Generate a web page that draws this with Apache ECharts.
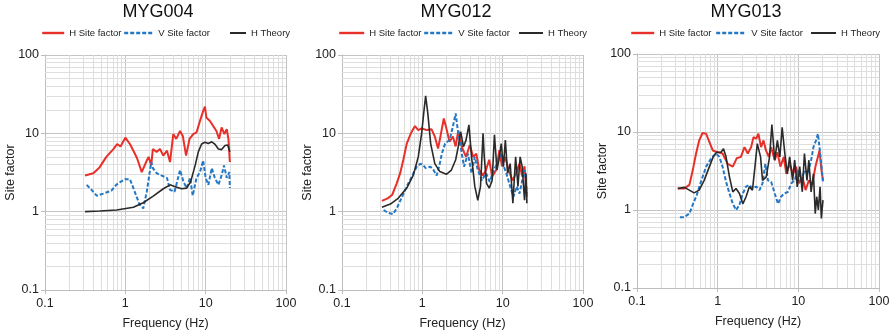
<!DOCTYPE html>
<html>
<head>
<meta charset="utf-8">
<script src="https://cdn.jsdelivr.net/npm/echarts@6/dist/echarts.min.js"></script>
<style>
html,body{margin:0;padding:0;background:#fff;}
#c{width:893px;height:336px;}
</style>
</head>
<body>
<div id="c"></div>
<script>
// ---- Data (frequency Hz, site factor) ----
const panelTitles = ['MYG004', 'MYG012', 'MYG013'];
const seriesNames = ['H Site factor', 'V Site factor', 'H Theory'];
const tickLabels = ['0.1', '1', '10', '100'];

const myg004_H = [[0.315,2.9],[0.4,3.1],[0.48,3.7],[0.58,5.0],[0.71,6.3],[0.79,7.3],[0.87,6.8],[1.0,8.8],[1.14,7.3],[1.26,6.0],[1.4,4.8],[1.6,3.2],[1.85,4.5],[1.95,5.0],[2.1,3.9],[2.2,6.3],[2.45,5.8],[2.7,6.3],[2.97,5.2],[3.3,6.0],[3.6,4.3],[3.95,9.8],[4.3,8.5],[4.8,10.7],[5.2,9.2],[5.7,5.2],[6.3,8.5],[7.0,9.8],[7.7,10.3],[8.5,14.4],[9.3,19.2],[9.8,22],[10.2,15.9],[11.3,14.4],[12.4,12.4],[13.6,10.7],[14.7,8.5],[15.8,11.9],[17.1,9.8],[18.3,11.3],[19.2,8.5],[20,4.3]];
const myg004_V = [[0.33,2.2],[0.38,1.9],[0.44,1.6],[0.53,1.7],[0.67,1.85],[0.77,2.2],[0.87,2.4],[0.99,2.6],[1.14,2.6],[1.26,2.0],[1.4,1.5],[1.5,1.24],[1.67,1.1],[1.85,1.8],[2.1,4.3],[2.2,3.6],[2.45,3.1],[2.8,2.9],[3.3,2.7],[3.6,1.9],[4.1,1.8],[4.8,3.4],[5.3,2.4],[5.8,2.0],[6.4,2.7],[6.9,1.6],[7.7,2.7],[8.5,3.2],[9.3,4.5],[10,2.7],[10.8,2.2],[11.9,3.6],[13,2.7],[14.4,2.2],[15.8,2.9],[16.9,3.9],[18.3,2.7],[19.7,3.2],[20,2.0]];
const myg004_T = [[0.315,1.0],[0.48,1.02],[0.78,1.05],[1.26,1.14],[1.67,1.3],[2.2,1.57],[2.97,1.96],[3.6,2.2],[4.1,2.1],[5.0,1.96],[5.8,2.0],[6.5,2.4],[7.4,3.9],[8.1,5.8],[8.9,7.3],[9.8,7.7],[10.8,7.4],[11.9,7.8],[13,7.3],[14.4,6.3],[15.8,6.2],[17.4,7.0],[18.8,7.1],[20,5.8]];

const myg012_H = [[0.314,1.37],[0.37,1.48],[0.42,1.63],[0.48,2.3],[0.53,3.1],[0.58,4.6],[0.64,7.4],[0.72,10],[0.81,12.4],[0.89,11.0],[0.98,11.6],[1.13,11.0],[1.3,11.3],[1.43,9.1],[1.57,6.4],[1.68,9.1],[1.85,15.5],[1.99,11.6],[2.18,7.8],[2.4,9.1],[2.6,6.8],[2.8,10.8],[3.15,6.4],[3.5,5.0],[3.9,7.1],[4.3,5.0],[4.7,5.5],[5.1,3.4],[5.7,2.9],[6.2,3.4],[6.8,4.6],[7.4,2.8],[8.3,3.4],[9.1,6.1],[9.8,3.8],[10.8,5.0],[11.8,3.4],[13.3,2.5],[14.7,3.1],[16.2,4.1],[17.5,2.8],[18.7,3.8],[20,1.55]];
const myg012_V = [[0.33,1.05],[0.37,0.97],[0.43,0.93],[0.48,1.1],[0.56,1.55],[0.64,2.1],[0.74,2.8],[0.85,3.75],[0.95,4.1],[1.03,3.9],[1.1,3.6],[1.26,3.75],[1.38,3.4],[1.51,2.9],[1.63,3.9],[1.75,5.5],[1.92,7.4],[2.18,8.2],[2.4,12.2],[2.6,18],[2.76,11],[2.9,8.2],[3.1,5.5],[3.3,3.75],[3.7,5.5],[4.1,3.1],[4.5,5.0],[4.9,3.4],[5.5,2.5],[6.2,3.1],[6.9,2.4],[7.8,3.4],[8.9,4.6],[9.6,5.5],[10.2,3.9],[11.1,3.1],[12.4,2.1],[13.6,1.55],[15,2.1],[16.2,1.7],[17.5,2.5],[19,3.4],[20,1.7]];
const myg012_T = [[0.314,1.14],[0.4,1.25],[0.5,1.48],[0.64,2.0],[0.77,2.9],[0.89,5.0],[0.98,10],[1.05,19.8],[1.1,30],[1.17,18],[1.27,7.4],[1.43,4.1],[1.65,3.25],[1.99,3.0],[2.3,3.4],[2.6,4.6],[2.8,6.75],[3.0,10.5],[3.25,6.75],[3.5,8.2],[3.8,12.8],[4.1,5.0],[4.5,2.1],[4.9,1.4],[5.3,2.1],[5.7,10],[5.9,5.0],[6.3,2.3],[6.8,2.0],[7.4,2.5],[7.9,9.6],[8.5,3.4],[9.1,5.0],[9.6,7.4],[10.2,3.75],[10.8,8.2],[11.5,3.1],[12.4,4.1],[13.4,1.28],[14.5,5.0],[15.5,2.1],[16.5,5.0],[17.5,3.75],[18.7,1.4],[19.5,3.1],[20,1.28]];

const myg013_H = [[0.32,1.89],[0.386,1.89],[0.446,2.1],[0.49,3.2],[0.54,5.3],[0.59,7.8],[0.65,9.7],[0.72,9.5],[0.79,7.4],[0.87,5.8],[1.0,5.5],[1.15,5.3],[1.33,3.9],[1.54,3.6],[1.72,4.6],[1.94,4.8],[2.15,6.4],[2.36,5.3],[2.6,6.4],[2.78,8.6],[3.0,8.2],[3.2,9.5],[3.45,6.4],[3.7,7.8],[3.97,5.8],[4.3,4.8],[4.6,6.4],[5.1,4.35],[5.5,5.5],[6.0,3.6],[6.6,4.8],[7.1,2.9],[7.8,3.9],[8.6,2.9],[9.4,3.6],[10.2,2.2],[11.2,2.66],[12.3,1.8],[13.5,2.4],[14.8,2.1],[16.3,3.6],[17.5,4.8],[18.3,5.8],[19.4,3.2],[20.2,2.4]];
const myg013_V = [[0.34,0.81],[0.386,0.81],[0.446,0.9],[0.49,1.16],[0.55,1.55],[0.62,2.3],[0.72,3.6],[0.83,4.6],[0.95,5.3],[1.05,4.8],[1.15,3.6],[1.27,2.3],[1.4,1.63],[1.54,1.2],[1.69,1.0],[1.86,1.16],[2.05,1.63],[2.25,2.0],[2.47,2.1],[2.7,1.89],[3.0,2.0],[3.3,1.8],[3.6,2.2],[3.9,3.9],[4.2,2.4],[4.6,2.3],[5.1,1.63],[5.6,1.2],[6.1,1.48],[6.7,1.63],[7.4,1.7],[8.2,2.2],[9.0,2.4],[9.9,3.2],[10.9,2.4],[11.9,3.2],[13.1,2.9],[14.4,4.35],[15.4,6.4],[16.6,7.8],[17.5,9.5],[18.3,6.4],[19.4,3.6],[20.2,2.3]];
const myg013_T = [[0.32,1.89],[0.386,1.95],[0.446,1.8],[0.51,1.66],[0.59,1.8],[0.68,2.4],[0.79,3.6],[0.88,4.8],[0.97,5.5],[1.1,5.5],[1.18,6.1],[1.27,4.8],[1.4,2.66],[1.54,1.71],[1.69,1.89],[1.86,1.63],[2.05,1.2],[2.25,1.48],[2.47,1.98],[2.7,1.8],[2.9,3.6],[3.1,7.1],[3.4,4.8],[3.6,2.4],[4.0,2.66],[4.4,4.8],[4.7,12.5],[5.1,4.35],[5.5,7.8],[5.9,4.8],[6.3,11.5],[6.8,5.3],[7.3,2.9],[7.8,4.8],[8.5,2.4],[9.0,4.35],[9.7,1.98],[10.4,3.6],[11.2,1.71],[11.9,5.3],[12.8,2.4],[13.5,4.35],[14.4,1.71],[15.4,2.9],[16.2,0.9],[16.9,1.48],[17.7,1.0],[18.6,1.98],[19.3,0.78],[20.2,1.34]];

const panelData = [
  [myg004_H, myg004_V, myg004_T],
  [myg012_H, myg012_V, myg012_T],
  [myg013_H, myg013_V, myg013_T]
];

// ---- Layout / style ----
const FONT = "'Liberation Sans', Arial, Helvetica, sans-serif";
const grids = [
  {left: 45, top: 55, width: 241, height: 235},
  {left: 342, top: 55, width: 241, height: 235},
  {left: 637, top: 54, width: 242, height: 234}
];
const titleCenters = [158, 456, 746];
const legendPos = [
  [{left: 41, w: 22}, {left: 123, w: 29}, {left: 229, w: 16}],
  [{left: 338, w: 25}, {left: 423, w: 29}, {left: 518, w: 24}],
  [{left: 630, w: 23}, {left: 715, w: 30}, {left: 810, w: 25}]
];
const seriesStyles = [
  {color: '#e8302a', width: 2, type: 'solid'},
  {color: '#2477c4', width: 2, type: [4, 2]},
  {color: '#2a2a2a', width: 1.6, type: 'solid'}
];

// minor grid positions (2..9 x decade)
const minorVals = [];
for (let e = -1; e < 2; e++) {
  for (let m = 2; m <= 9; m++) minorVals.push(+(m * Math.pow(10, e)).toPrecision(3));
}

const option = {
  animation: false,
  backgroundColor: '#fff',
  title: [], legend: [], grid: [], xAxis: [], yAxis: [], series: []
};

function fmt(v) {
  const s = [0.1, 1, 10, 100];
  for (let i = 0; i < s.length; i++) if (Math.abs(v - s[i]) < 1e-6 * s[i]) return tickLabels[i];
  return '';
}

for (let p = 0; p < 3; p++) {
  option.title.push({
    text: panelTitles[p], left: titleCenters[p], top: 3, textAlign: 'center', padding: 0,
    textStyle: {fontFamily: FONT, fontSize: 18, fontWeight: 'normal', color: '#111'}
  });
  for (let s = 0; s < 3; s++) {
    const st = seriesStyles[s];
    option.legend.push({
      data: [seriesNames[s]], left: legendPos[p][s].left, top: 28, padding: 0,
      itemWidth: legendPos[p][s].w, itemHeight: 10, selectedMode: false,
      itemStyle: {opacity: 0, borderWidth: 0},
      lineStyle: {color: st.color, width: st.width + 0.4, type: st.type, opacity: 1},
      textStyle: {fontFamily: FONT, fontSize: 9.5, color: '#222'}
    });
  }
  option.grid.push(grids[p]);
  option.xAxis.push({
    type: 'log', logBase: 10, min: 0.1, max: 100, gridIndex: p,
    name: 'Frequency (Hz)', nameLocation: 'middle', nameGap: 27, nameMoveOverlap: false,
    nameTextStyle: {fontFamily: FONT, fontSize: 12.5, color: '#222'},
    axisLine: {show: true, lineStyle: {color: '#bdbdbd', width: 1}},
    axisTick: {show: true, length: 4, lineStyle: {color: '#bdbdbd'}},
    axisLabel: {fontFamily: FONT, fontSize: 12.5, color: '#222', margin: 7, formatter: fmt},
    splitLine: {show: true, lineStyle: {color: '#c4c4c4', width: 1}}
  });
  option.yAxis.push({
    type: 'log', logBase: 10, min: 0.1, max: 100, gridIndex: p,
    name: 'Site factor', nameLocation: 'middle', nameGap: 28, nameMoveOverlap: false,
    nameTextStyle: {fontFamily: FONT, fontSize: 12.5, color: '#222'},
    axisLine: {show: true, lineStyle: {color: '#bdbdbd', width: 1}},
    axisTick: {show: true, length: 4, lineStyle: {color: '#bdbdbd'}},
    axisLabel: {fontFamily: FONT, fontSize: 12.5, color: '#222', margin: 6, formatter: fmt},
    splitLine: {show: true, lineStyle: {color: '#c4c4c4', width: 1}}
  });
  // minor grid lines via markLine on an empty helper series (drawn beneath the curves)
  option.series.push({
    type: 'line', xAxisIndex: p, yAxisIndex: p, data: [], silent: true, z: 1,
    markLine: {
      z: 1, silent: true, symbol: 'none', label: {show: false}, animation: false,
      emphasis: {disabled: true},
      lineStyle: {color: '#dedede', width: 1, type: 'solid'},
      data: minorVals.map(v => ({xAxis: v})).concat(minorVals.map(v => ({yAxis: v})))
    }
  });
  for (let s = 0; s < 3; s++) {
    const st = seriesStyles[s];
    option.series.push({
      name: seriesNames[s], type: 'line', xAxisIndex: p, yAxisIndex: p,
      data: panelData[p][s], symbol: 'none', showSymbol: false, smooth: false, z: 3 + (s === 2 ? 1 : 0),
      color: st.color,
      lineStyle: {color: st.color, width: st.width, type: st.type}
    });
  }
}

const chart = echarts.init(document.getElementById('c'), null, {renderer: 'canvas'});
chart.setOption(option);
</script>
</body>
</html>
